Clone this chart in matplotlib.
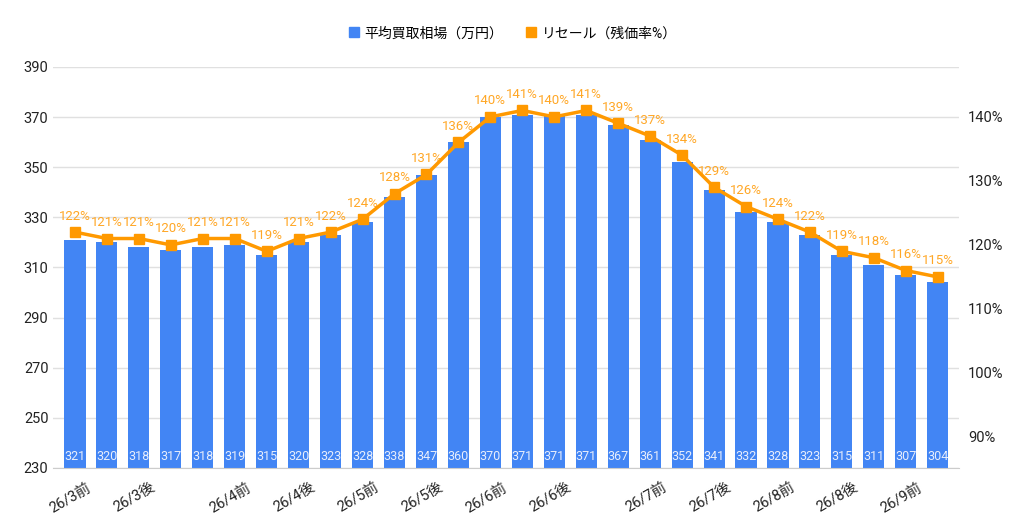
import matplotlib.pyplot as plt
import numpy as np
import matplotlib as mpl
from matplotlib.lines import Line2D
from matplotlib.transforms import ScaledTranslation

mpl.rcParams['font.family'] = ['Roboto', 'Noto Sans CJK JP', 'DejaVu Sans']

labels = ['26/3前', '', '26/3後', '', '', '26/4前', '', '26/4後', '', '26/5前',
          '', '26/5後', '', '26/6前', '', '26/6後', '', '', '26/7前', '',
          '26/7後', '', '26/8前', '', '26/8後', '', '26/9前', '']
price = [321, 320, 318, 317, 318, 319, 315, 320, 323, 328, 338, 347, 360, 370,
         371, 371, 371, 367, 361, 352, 341, 332, 328, 323, 315, 311, 307, 304]
resale = [122, 121, 121, 120, 121, 121, 119, 121, 122, 124, 128, 131, 136, 140,
          141, 140, 141, 139, 137, 134, 129, 126, 124, 122, 119, 118, 116, 115]

blue = '#4285F4'
orange = '#FF9900'
label_orange = '#FFA726'

fig = plt.figure(figsize=(10.24, 5.27), dpi=100)
ax = fig.add_axes([0.052, 0.112, 0.885, 0.761])
ax2 = ax.twinx()

x = np.arange(len(price))
ax.bar(x, price, 0.66, color=blue, zorder=2)
ax.set_ylim(230, 390)
ax.set_yticks(range(230, 391, 20))
ax.set_xlim(-0.68, len(price) - 0.32)
ax.set_xticks(x)
ax.set_xticklabels(labels, rotation=30, ha='right', rotation_mode='anchor', fontsize=10, color='#222222')
ax.tick_params(axis='both', length=0, labelsize=10.5, colors='#222222')
ax.tick_params(axis='x', pad=9)
shift = ScaledTranslation(12 / 100, 0, fig.dpi_scale_trans)
for t in ax.get_xticklabels():
    t.set_transform(t.get_transform() + shift)
ax.grid(axis='y', color='#e0e0e0', linewidth=1, zorder=0)
for s in ['top', 'right', 'left']:
    ax.spines[s].set_visible(False)
ax.spines['bottom'].set_color('#cccccc')

for i, v in enumerate(price):
    ax.annotate(str(v), xy=(i, 230), xytext=(0, 8), textcoords='offset points',
                ha='center', va='center', fontsize=9, color='#e8eefc', zorder=3)

ax2.plot(x, resale, color=orange, linewidth=2.5, marker='s', markersize=6.5, zorder=4)
ax2.set_ylim(85.16, 147.8)
ax2.set_yticks(range(90, 141, 10))
ax2.set_yticklabels([f'{t}%' for t in range(90, 141, 10)])
ax2.tick_params(axis='y', length=0, labelsize=10.5, colors='#222222', pad=6)
for s in ax2.spines.values():
    s.set_visible(False)

for i, v in enumerate(resale):
    ax2.annotate(f'{v}%', xy=(i, v), xytext=(0, 11.5), textcoords='offset points',
                 ha='center', va='center', fontsize=9.5, color=label_orange)

handles = [
    Line2D([], [], linestyle='none', marker='s', markersize=7, color=blue),
    Line2D([], [], linestyle='none', marker='s', markersize=7, color=orange),
]
fig.legend(handles, ['平均買取相場（万円）', 'リセール（残価率%）'], loc='center',
           bbox_to_anchor=(0.5, 0.937), ncol=2, frameon=False, fontsize=10,
           handletextpad=0.3, columnspacing=1.5, handlelength=1.0)

fig.savefig('out.png', dpi=100)
